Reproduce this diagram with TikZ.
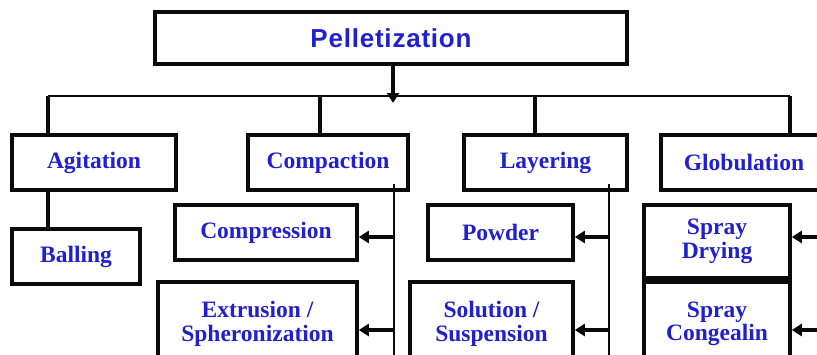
\documentclass[tikz,border=0pt]{standalone}
\usepackage{fontspec}
\setmainfont{Liberation Serif}
\newfontfamily\headfont[LetterSpace=3]{Liberation Sans}
\usetikzlibrary{arrows.meta,positioning}
\definecolor{PelBlue}{RGB}{32,32,205}
\definecolor{PelLine}{RGB}{10,10,10}

\begin{document}
\begin{tikzpicture}[x=1pt,y=-1pt,>={Triangle[length=10pt,width=12pt]},
    box/.style={draw=PelLine,line width=3.6pt,fill=white,inner sep=0pt,
      align=center,text=PelBlue,font=\bfseries\fontsize{23.5}{23.5}\selectfont},
    stub/.style={line width=3.2pt,PelLine},
    thin/.style={line width=1.6pt,PelLine},
    feed/.style={->,line width=3.4pt,PelLine}]
      \useasboundingbox (0,0) rectangle (817,354);
      % top box
      \node[box,minimum width=472pt,minimum height=52pt,
        font=\headfont\bfseries\fontsize{26}{28}\selectfont] (pell) at (391,38) {Pelletization};
      % main methods
      \node[box,minimum width=164pt,minimum height=55pt] (agit) at (94,162.5) {Agitation};
      \node[box,minimum width=160pt,minimum height=55pt] (comp) at (328,162.5) {Compaction};
      \node[box,minimum width=163pt,minimum height=55pt] (layer) at (545.5,162.5) {Layering};
      \node[box,minimum width=166pt,minimum height=55pt] (glob) at (744,162.5) {Globulation};
      % sub methods
      \node[box,minimum width=128pt,minimum height=55pt] (ball) at (76,256.5) {Balling};
      \node[box,minimum width=182pt,minimum height=55pt] (compr) at (266,232.5) {Compression};
      \node[box,minimum width=199pt,minimum height=84pt] (extr) at (257.5,324) {Extrusion /\\Spheronization};
      \node[box,minimum width=145pt,minimum height=55pt] (powd) at (500.5,232.5) {Powder};
      \node[box,minimum width=163pt,minimum height=84pt] (sol) at (491.5,324) {Solution /\\Suspension};
      \node[box,minimum width=146pt,minimum height=73pt] (sdry) at (717,241.5) {Spray\\Drying};
      \node[box,minimum width=146pt,minimum height=84pt] (scong) at (717,324) {Spray\\Congealin};
      % bus line
      \coordinate (bA) at (48,96);
      \coordinate (bC) at (320,96);
      \coordinate (bL) at (535,96);
      \coordinate (bG) at (790,96);
      \draw[line width=2.2pt,PelLine] (bA)--(bG);
      \draw[feed] (pell.south -| 393,0)--(393,103);
      \foreach \b/\n in {bA/agit,bC/comp,bL/layer,bG/glob}
        \draw[stub] (\b)--(\b |- \n.north);
      \draw[stub] (bA |- agit.south)--(bA |- ball.north);
      % side feeds
      \coordinate (cTop) at (394,184);
      \coordinate (cBot) at (394,360);
      \coordinate (lTop) at (609,184);
      \coordinate (lBot) at (609,360);
      \coordinate (gA) at (822,237);
      \coordinate (gB) at (822,330);
      \draw[thin] (cTop)--(cBot);
      \draw[thin] (lTop)--(lBot);
      \draw[feed] (cTop |- 0,237)--(compr.east |- 0,237);
      \draw[feed] (cTop |- 0,330)--(extr.east |- 0,330);
      \draw[feed] (lTop |- 0,237)--(powd.east |- 0,237);
      \draw[feed] (lTop |- 0,330)--(sol.east |- 0,330);
      \draw[feed] (gA)--(sdry.east |- gA);
      \draw[feed] (gB)--(scong.east |- gB);
    \end{tikzpicture}
\end{document}
